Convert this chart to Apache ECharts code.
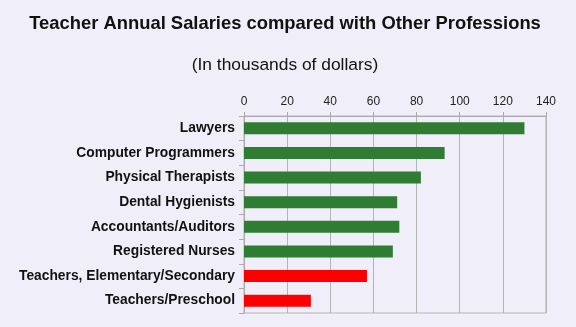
<!DOCTYPE html>
<html><head><meta charset="utf-8">
<script src="https://cdn.jsdelivr.net/npm/echarts@6/dist/echarts.min.js"></script>
<style>html,body{margin:0;padding:0;background:#F0EEF8;}#c{width:576px;height:327px;}</style>
</head><body><div id="c"></div>
<script>
var categories = ["Lawyers","Computer Programmers","Physical Therapists","Dental Hygienists","Accountants/Auditors","Registered Nurses","Teachers, Elementary/Secondary","Teachers/Preschool"];
var salaries = [130, 93, 82, 71, 72, 69, 57, 31];
var barColors = ["#2E7D32","#2E7D32","#2E7D32","#2E7D32","#2E7D32","#2E7D32","#FF0000","#FF0000"];
var xTicks = [0,20,40,60,80,100,120,140];

var chart = echarts.init(document.getElementById('c'));
chart.setOption({
  backgroundColor: '#F0EEF8',
  animation: false,
  title: [
    {text: 'Teacher Annual Salaries compared with Other Professions', left: 280, textAlign: 'center', top: 10,
     textStyle: {fontFamily: 'Liberation Sans, Arial', fontWeight: 'bold', fontSize: 18.4, color: '#111'}},
    {text: '(In thousands of dollars)', left: 280, textAlign: 'center', top: 52,
     textStyle: {fontFamily: 'Liberation Sans, Arial', fontWeight: 'normal', fontSize: 17.4, color: '#111'}}
  ],
  grid: {left: 244, right: 30, top: 116, bottom: 14, containLabel: false,
         show: true, borderColor: '#b4b4b4', borderWidth: 1, backgroundColor: 'transparent'},
  xAxis: {
    type: 'value', position: 'top', min: 0, max: 140, interval: 20,
    axisLine: {show: true, lineStyle: {color: '#aaa'}},
    axisTick: {show: true, length: 4, lineStyle: {color: '#aaa'}},
    axisLabel: {fontFamily: 'Liberation Sans, Arial', fontSize: 12, color: '#222', margin: 8},
    splitLine: {show: true, lineStyle: {color: '#b4b4b4'}}
  },
  yAxis: {
    type: 'category', data: categories, inverse: true,
    axisLine: {show: true, lineStyle: {color: '#aaa'}},
    axisTick: {show: true, length: 5, lineStyle: {color: '#aaa'}},
    axisLabel: {fontFamily: 'Liberation Sans, Arial', fontWeight: 'bold', fontSize: 13.8, color: '#111', margin: 9}
  },
  series: [{
    type: 'bar', barWidth: 12,
    data: salaries.map(function(v, i){ return {value: v, itemStyle: {color: barColors[i]}}; })
  }]
});
</script></body></html>
